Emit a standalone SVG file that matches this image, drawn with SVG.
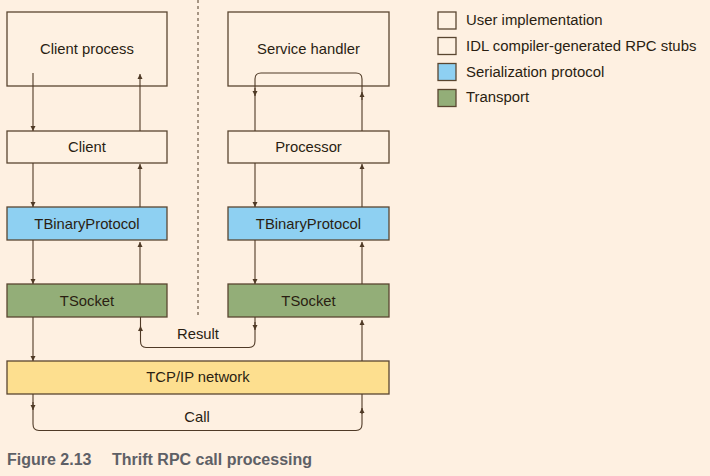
<svg xmlns="http://www.w3.org/2000/svg" width="710" height="476" viewBox="0 0 710 476">
<style>
.box{stroke:#5a4630;stroke-width:1.3}
.user{fill:#fef1e2}
.stub{fill:#fef1e2}
.ser{fill:#8ed0f2}
.tr{fill:#93ae78}
.net{fill:#fddf8f}
.lbl{font-family:"Liberation Sans",Arial,sans-serif;font-size:14.8px;fill:#2a1e12;text-anchor:middle}
.leg{font-family:"Liberation Sans",Arial,sans-serif;font-size:14.9px;fill:#2a1e12}
.ln{fill:none;stroke:#4f3a26;stroke-width:1.1}
.cap{font-family:"Liberation Sans",Arial,sans-serif;font-size:16px;font-weight:bold;fill:#5e6066}
</style>
<defs>
<marker id="ah" viewBox="0 0 10 10" refX="10" refY="5" markerWidth="5" markerHeight="6" markerUnits="userSpaceOnUse" orient="auto">
<path d="M0,0 L10,5 L0,10 z" fill="#4f3a26"/>
</marker>
</defs>
<rect width="710" height="476" fill="#fef0e1"/>
<line x1="198" y1="0" x2="198" y2="317" stroke="#4f3a26" stroke-width="1" stroke-dasharray="3,3"/>

<g id="client-process"><rect class="box user" x="7" y="12" width="160" height="74"/><text class="lbl" x="87" y="54">Client process</text></g>
<g id="service-handler"><rect class="box user" x="228" y="12" width="161" height="74"/><text class="lbl" x="308.5" y="54">Service handler</text></g>
<g id="client"><rect class="box stub" x="7" y="131" width="160" height="32"/><text class="lbl" x="87" y="152">Client</text></g>
<g id="processor"><rect class="box stub" x="228" y="131" width="161" height="32"/><text class="lbl" x="308.5" y="152">Processor</text></g>
<g id="tbinary-client"><rect class="box ser" x="7" y="207" width="160" height="33"/><text class="lbl" x="87" y="228.5">TBinaryProtocol</text></g>
<g id="tbinary-server"><rect class="box ser" x="228" y="207" width="161" height="33"/><text class="lbl" x="308.5" y="228.5">TBinaryProtocol</text></g>
<g id="tsocket-client"><rect class="box tr" x="7" y="284" width="160" height="33"/><text class="lbl" x="87" y="305.5">TSocket</text></g>
<g id="tsocket-server"><rect class="box tr" x="228" y="284" width="161" height="33"/><text class="lbl" x="308.5" y="305.5">TSocket</text></g>
<g id="tcpip"><rect class="box net" x="7" y="361" width="382" height="33"/><text class="lbl" x="198" y="382">TCP/IP network</text></g>

<g id="connectors">
<line class="ln" x1="33" y1="73" x2="33" y2="131" marker-end="url(#ah)"/>
<line class="ln" x1="140" y1="131" x2="140" y2="74" marker-end="url(#ah)"/>
<path class="ln" d="M255,131 V79 Q255,73 261,73 H356 Q362,73 362,79 V131"/>
<line class="ln" x1="255" y1="88" x2="255" y2="96" marker-end="url(#ah)"/>
<line class="ln" x1="362" y1="100" x2="362" y2="92" marker-end="url(#ah)"/>

<line class="ln" x1="33" y1="163" x2="33" y2="207" marker-end="url(#ah)"/>
<line class="ln" x1="140" y1="207" x2="140" y2="164" marker-end="url(#ah)"/>
<line class="ln" x1="255" y1="163" x2="255" y2="207" marker-end="url(#ah)"/>
<line class="ln" x1="362" y1="207" x2="362" y2="164" marker-end="url(#ah)"/>

<line class="ln" x1="33" y1="240" x2="33" y2="284" marker-end="url(#ah)"/>
<line class="ln" x1="140" y1="284" x2="140" y2="242" marker-end="url(#ah)"/>
<line class="ln" x1="255" y1="240" x2="255" y2="284" marker-end="url(#ah)"/>
<line class="ln" x1="362" y1="284" x2="362" y2="242" marker-end="url(#ah)"/>

<line class="ln" x1="33" y1="317" x2="33" y2="361" marker-end="url(#ah)"/>
<line class="ln" x1="362" y1="361" x2="362" y2="320" marker-end="url(#ah)"/>
<path class="ln" d="M255,317 V341 Q255,347.5 249,347.5 H146 Q140.5,347.5 140.5,341 V317"/>
<line class="ln" x1="255" y1="322" x2="255" y2="330" marker-end="url(#ah)"/>
<line class="ln" x1="140.5" y1="332" x2="140.5" y2="326" marker-end="url(#ah)"/>
<text class="lbl" x="198" y="338.5">Result</text>

<path class="ln" d="M33,394 V424 Q33,430.5 39,430.5 H356 Q362,430.5 362,424 V394"/>
<line class="ln" x1="33" y1="402" x2="33" y2="410" marker-end="url(#ah)"/>
<line class="ln" x1="362" y1="414" x2="362" y2="408" marker-end="url(#ah)"/>
<text class="lbl" x="197" y="421.5">Call</text>
</g>

<g id="legend">
<rect class="box user" x="438" y="12" width="18" height="17"/><text class="leg" x="466" y="25">User implementation</text>
<rect class="box stub" x="438" y="37.5" width="18" height="17"/><text class="leg" x="466" y="51">IDL compiler-generated RPC stubs</text>
<rect class="box ser" x="438" y="63.5" width="18" height="17"/><text class="leg" x="466" y="77">Serialization protocol</text>
<rect class="box tr" x="438" y="89.5" width="18" height="17"/><text class="leg" x="466" y="102">Transport</text>
</g>

<text class="cap" x="7" y="465">Figure 2.13<tspan x="112">Thrift RPC call processing</tspan></text>
</svg>
